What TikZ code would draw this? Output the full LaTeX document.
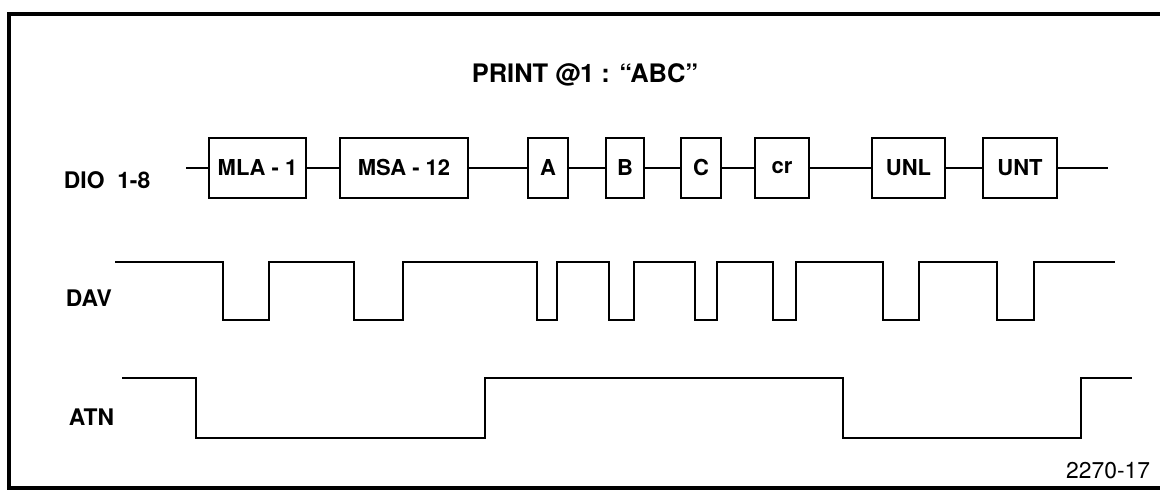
\documentclass[tikz,border=0pt]{standalone}
\usepackage{fontspec}
\setmainfont{TeX Gyre Heros}
\usetikzlibrary{positioning}

\begin{document}
\begin{tikzpicture}[line width=1.1pt,
    box/.style={draw, minimum height=1.2cm, inner sep=0pt, font=\bfseries\fontsize{12.5}{14}\selectfont},
    lbl/.style={anchor=west, inner sep=0pt, font=\bfseries\fontsize{13}{15}\selectfont}]
            \useasboundingbox (0,0) rectangle (23.2,9.88);
            \draw[line width=1.8pt] (23.4,9.6) -- (0.18,9.6) -- (0.18,0.12) -- (23.4,0.12);
            \node[font=\bfseries\fontsize{14.5}{17}\selectfont] (title) at (11.7,8.38) {PRINT @1 : ``ABC''};
            \node[lbl] (dio) at (1.26,6.28) {DIO\ \ 1-8};
            \node[lbl] (dav) at (1.30,3.92) {DAV};
            \node[lbl] (atn) at (1.36,1.54) {ATN};
            \node[anchor=east, inner sep=0pt, font=\fontsize{13}{15}\selectfont] (fig) at (23.02,0.46) {2270-17};
            % data bytes
            \coordinate (busin) at (3.72,6.52);
            \coordinate (busout) at (22.16,6.52);
            \node[box, minimum width=1.94cm] (mla) at (5.15,6.52) {MLA - 1};
            \node[box, minimum width=2.56cm] (msa) at (8.08,6.52) {MSA - 12};
            \node[box, minimum width=0.80cm] (ca) at (10.96,6.52) {A};
            \node[box, minimum width=0.76cm] (cb) at (12.50,6.52) {B};
            \node[box, minimum width=0.80cm] (cc) at (14.02,6.52) {C};
            \node[box, minimum width=1.08cm] (cr) at (15.64,6.52) {cr};
            \node[box, minimum width=1.46cm] (unl) at (18.17,6.52) {UNL};
            \node[box, minimum width=1.48cm] (unt) at (20.40,6.52) {UNT};
            \draw (busin) -- (mla) -- (msa) -- (ca) -- (cb) -- (cc) -- (cr) -- (unl) -- (unt) -- (busout);
            % DAV
            \draw (2.30,4.64) \foreach \a/\b in {4.46/5.38, 7.08/8.06, 10.74/11.14, 12.18/12.68, 13.90/14.34, 15.46/15.92, 17.66/18.38, 19.94/20.68} { -- (\a,4.64) -- (\a,3.48) -- (\b,3.48) -- (\b,4.64)} -- (22.30,4.64);
            % ATN
            \draw (2.44,2.32) -- (3.92,2.32) -- (3.92,1.12) -- (9.70,1.12) -- (9.70,2.32) -- (16.86,2.32) -- (16.86,1.12) -- (21.62,1.12) -- (21.62,2.32) -- (22.64,2.32);
        \end{tikzpicture}
\end{document}
